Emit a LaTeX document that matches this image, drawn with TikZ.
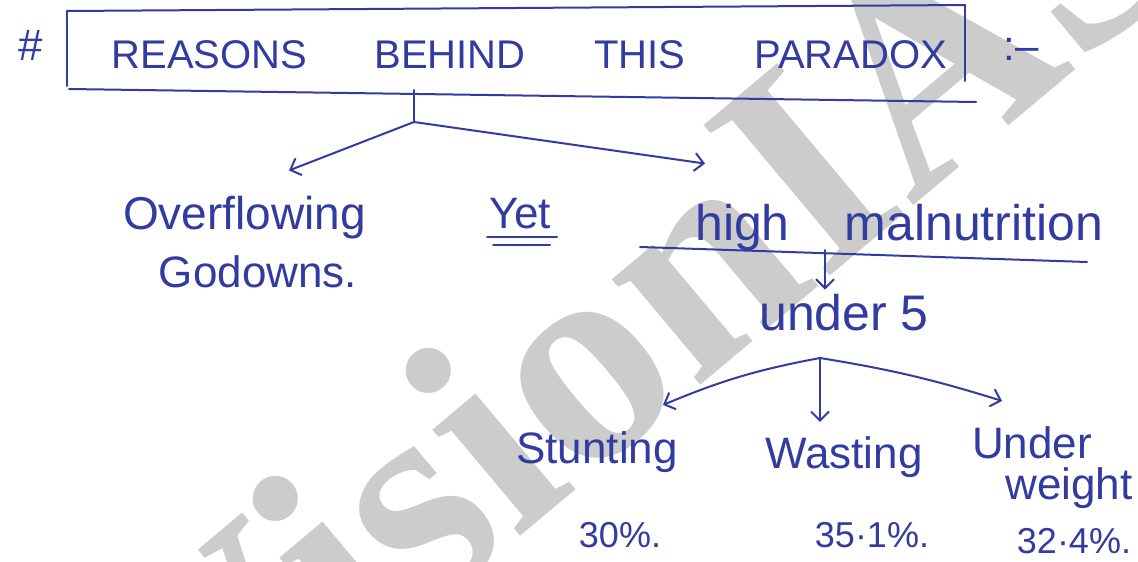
\documentclass[tikz,border=0pt]{standalone}
\usepackage{fontspec}
\setmainfont{Liberation Sans}
\newfontfamily\wmfont{Liberation Serif}
\usetikzlibrary{arrows.meta,calc}
\definecolor{ink}{RGB}{50,60,160}
\definecolor{wmgray}{RGB}{204,204,204}
\begin{document}
\begin{tikzpicture}[x=1pt,y=-1pt,
  ink/.style={draw=ink, line width=2pt, line cap=round, line join=round},
  arr/.style={ink, -{Straight Barb[length=9pt,width=18pt,line width=2pt]}},
  hand/.style={text=ink, inner sep=0pt, anchor=base, font=\fontsize{44}{52}\selectfont},
  pct/.style={hand, font=\fontsize{36}{44}\selectfont},
]
\useasboundingbox (0,0) rectangle (1138,562);
\fill[white] (0,0) rectangle (1138,562);

% background watermark
\node[text=wmgray, rotate=40, anchor=base west, inner sep=0pt,
      font=\wmfont\bfseries\fontsize{300}{300}\selectfont] (wm) at (205,801) {VisionIAS};

% heading
\node[hand] (hash) at (31,60) {\#};
\node[hand, font=\fontsize{40}{48}\selectfont] (title) at (529.5,68)
  {REASONS\hspace{67pt}BEHIND\hspace{69pt}THIS\hspace{69pt}PARADOX};
\node[hand, font=\fontsize{42}{50}\selectfont] (colon) at (1021,60) {:–};
\coordinate (b1) at (67,11);  \coordinate (b2) at (965,5);
\coordinate (b3) at (67,86);  \coordinate (b4) at (965,81);
\coordinate (b5) at (69,89);  \coordinate (b6) at (976,102);
\draw[ink] (b1) -- (b2);
\draw[ink] (b1) -- (b3);
\draw[ink] (b2) -- (b4);
\draw[ink] (b5) -- (b6);

% first level
\node[hand, font=\fontsize{46}{54}\selectfont] (over) at (244.5,229) {Overflowing};
\node[hand] (godowns) at (258,287) {Godowns.};
\node[hand] (yet) at (520,228) {Yet};
\node[hand, anchor=base west, font=\fontsize{50}{58}\selectfont] (high) at (695,240)
  {high\hspace{55pt}malnutrition};

\coordinate (t1) at (414,90);
\coordinate (j1) at (414,122);
\draw[ink] (t1) -- (j1);
\draw[arr] (j1) -- ($(over.north)+(44.5,-25)$);
\draw[arr] (j1) -- ($(high.north west)+(10,-40)$);

\coordinate (y1a) at (487,237); \coordinate (y1b) at (557,237);
\coordinate (y2a) at (493,245); \coordinate (y2b) at (550,245);
\draw[ink] (y1a) -- (y1b);
\draw[ink] (y2a) -- (y2b);

\coordinate (ula) at (640,247);
\coordinate (ulb) at (1087,262);
\draw[ink] (ula) -- (ulb);

% second level
\node[hand, font=\fontsize{50}{58}\selectfont] (under5) at (844,330) {under 5};
\coordinate (d1) at (825,250);
\draw[arr] (d1) -- ($(under5.north)+(-19,-4)$);

% third level
\node[hand] (stunt) at (597,463) {Stunting};
\node[hand] (waste) at (844,468) {Wasting};
\node[hand] (under) at (1032,458) {Under};
\node[hand] (weight) at (1069,499) {weight};
\node[pct] (p1) at (620,547) {30\%.};
\node[pct] (p2) at (872,547) {35·1\%.};
\node[pct] (p3) at (1074,553) {32·4\%.};

\coordinate (j2) at (820,358);
\draw[arr] (j2) to[bend right=6] ($(stunt.north)+(66,-26)$);
\draw[arr] (j2) -- ($(waste.north)+(-24,-14)$);
\draw[arr] (j2) to[bend left=4] ($(under.north)+(-30,-25)$);
\end{tikzpicture}
\end{document}
